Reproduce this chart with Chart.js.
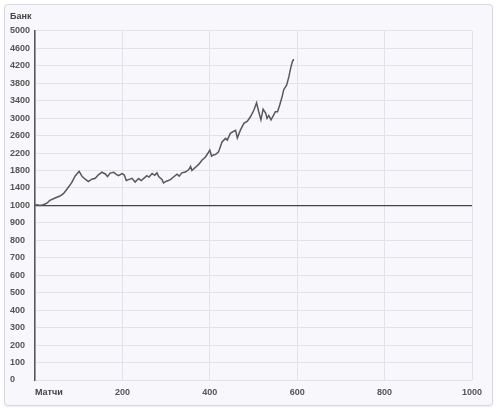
<!DOCTYPE html>
<html>
<head>
<meta charset="utf-8">
<script src="https://cdn.jsdelivr.net/npm/chart.js@4/dist/chart.umd.min.js"></script>
<style>
  body { margin: 0; background: #fff; }
  #box {
    position: absolute; left: 4px; top: 4px; width: 487px; height: 400px;
    border: 1px solid #d8d8de; border-radius: 4px; background: #f8f8fc;
    box-shadow: 0 1px 2px rgba(0,0,0,0.08);
  }
  #bankChart { position: absolute; left: 0; top: 0; }
</style>
</head>
<body>
<div id="box"></div>
<canvas id="bankChart" width="500" height="413"></canvas>
<script>
// bank balance after each match
const matches = [0,5,11,19,27,34,46,57,65,73,84,92,101,108,115,122,130,138,145,153,
  161,166,172,180,186,191,199,204,209,214,222,229,237,243,251,256,261,268,274,279,
  283,291,294,302,310,317,325,330,336,344,352,356,359,367,375,382,390,396,400,404,
  409,413,420,428,436,440,447,455,459,463,470,478,486,493,501,507,512,517,522,528,
  531,535,540,546,550,555,560,566,569,576,581,585,589,592];
const bank = [1000,1015,1000,1015,1050,1115,1170,1215,1270,1370,1520,1675,1780,1660,1600,1545,1600,1620,1700,1760,
  1720,1660,1740,1760,1710,1680,1730,1700,1570,1590,1620,1535,1615,1570,1635,1680,1650,1730,1690,1745,
  1660,1590,1515,1560,1590,1650,1715,1670,1745,1765,1820,1895,1800,1870,1945,2035,2110,2200,2265,2130,
  2160,2165,2225,2455,2535,2495,2650,2700,2720,2545,2725,2880,2930,3030,3185,3350,3145,2960,3205,3110,
  2995,3060,2960,3070,3145,3145,3300,3510,3645,3760,3950,4145,4295,4350];

const xTicks = [0, 200, 400, 600, 800, 1000];
const yTicks = [0,100,200,300,400,500,600,700,800,900,1000,1400,1800,2200,2600,3000,3400,3800,4200,4600,5000];
const startBank = 1000;

// the y axis is piecewise: 100 per step below 1000, 400 per step above
function toAxis(v) {
  return v <= 1000 ? v / 100 : 10 + (v - 1000) / 400;
}

const font = { family: 'Liberation Sans, Arial, sans-serif', size: 9, weight: 'bold' };

const xLabel = {
  id: 'xLabel',
  afterDraw(chart) {
    const ctx = chart.ctx;
    ctx.save();
    ctx.font = 'bold 9px Liberation Sans, Arial, sans-serif';
    ctx.fillStyle = '#444';
    ctx.textBaseline = 'middle';
    ctx.fillText('Матчи', chart.chartArea.left, 393);
    ctx.restore();
  }
};

const ctx = document.getElementById('bankChart').getContext('2d');
new Chart(ctx, {
  type: 'line',
  data: {
    datasets: [{
      data: matches.map((m, i) => ({ x: m, y: toAxis(bank[i]) })),
      borderColor: '#58585c',
      borderWidth: 1.5,
      pointRadius: 0,
      tension: 0,
      fill: false
    }]
  },
  options: {
    responsive: false,
    animation: false,
    devicePixelRatio: 1,
    layout: { padding: { left: 10, top: 11, right: 28, bottom: 0 } },
    plugins: {
      legend: { display: false },
      tooltip: { enabled: false },
      title: {
        display: true,
        text: 'Банк',
        align: 'start',
        color: '#444',
        font: font,
        padding: { top: 0, bottom: 9 }
      }
    },
    scales: {
      x: {
        type: 'linear',
        min: 0,
        max: 1000,
        afterBuildTicks: s => { s.ticks = xTicks.map(v => ({ value: v })); },
        afterFit: s => { s.height = 33; },
        ticks: {
          padding: 7,
          color: '#555',
          font: font,
          maxRotation: 0,
          callback: v => v === 0 ? '' : v
        },
        grid: { color: '#e2e2e8', drawTicks: false },
        border: { display: false }
      },
      y: {
        type: 'linear',
        min: 0,
        max: 20,
        afterBuildTicks: s => { s.ticks = yTicks.map(v => ({ value: toAxis(v) })); },
        afterFit: s => { s.width = 25; },
        ticks: {
          padding: 0,
          crossAlign: 'far',
          color: '#555',
          font: font,
          callback: (v, i) => yTicks[i]
        },
        grid: {
          color: c => c.tick && c.tick.value === toAxis(startBank) ? '#444' : '#e2e2e8',
          lineWidth: c => c.tick && c.tick.value === toAxis(startBank) ? 1.3 : 1,
          drawTicks: false
        },
        border: { display: true, color: '#555', width: 1.5 }
      }
    }
  },
  plugins: [xLabel]
});
</script>
</body>
</html>
